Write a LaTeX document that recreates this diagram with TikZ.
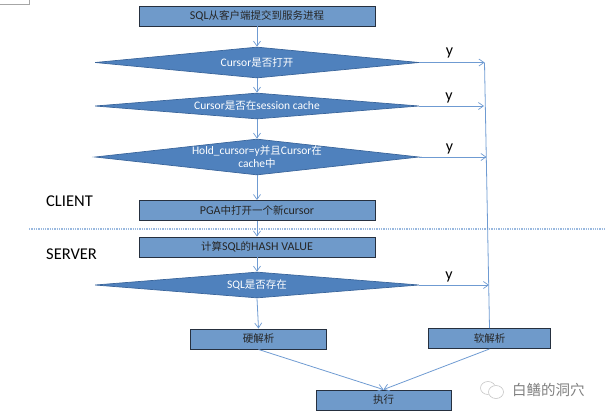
\documentclass[tikz,border=0pt]{standalone}
\usepackage{fontspec}
\setmainfont{Carlito}
\newfontfamily\cjk{Noto Sans CJK SC}
\usetikzlibrary{shapes.geometric,arrows.meta}
\newcommand{\zh}[1]{{\cjk\fontsize{10.5}{13}\selectfont #1}}
\definecolor{boxfill}{HTML}{6F9ACA}
\definecolor{boxline}{HTML}{26303F}
\definecolor{diafill}{HTML}{4F81BD}
\definecolor{dialine}{HTML}{3A659B}
\definecolor{linkc}{HTML}{6F9BD2}
\tikzset{
  procbox/.style={rectangle,draw=boxline,line width=0.9pt,fill=boxfill,inner sep=0pt,text=black!85,font=\fontsize{12}{14}\selectfont},
  dia/.style={diamond,aspect=1,draw=dialine,line width=0.7pt,fill=diafill,inner sep=0pt},
  diatext/.style={text=white,align=center,inner sep=0pt,font=\fontsize{11.5}{13}\selectfont},
  link/.style={draw=linkc,line width=0.8pt,-{Straight Barb[length=5pt,width=7pt,line width=0.7pt]}},
  plainlink/.style={draw=linkc,line width=0.8pt},
  sidelabel/.style={inner sep=0pt,text=black,font=\fontsize{16.5}{18}\selectfont},
  ylabel/.style={inner sep=0pt,text=black,font=\fontsize{16}{18}\selectfont},
}
\begin{document}
\begin{tikzpicture}[x=1pt,y=-1pt]
\useasboundingbox (0,0) rectangle (605,416);
% fragment of a frame at the top left
\draw[black!35,line width=0.6pt] (0,4.7) -- (29.5,4.7) -- (29.5,0);

% separator
\coordinate (sepL) at (29,229);
\coordinate (sepR) at (605,229);
\draw[densely dotted,draw=linkc!70,line width=1.3pt] (sepL) -- (sepR);

% boxes
\node[procbox,minimum width=236pt,minimum height=20pt] (submit) at (257,16) {SQL\zh{从客户端提交到服务进程}};
\node[dia,minimum width=324pt,minimum height=31pt,label={[diatext]center:Cursor\zh{是否打开}}] (open) at (257,62.5) {};
\node[dia,minimum width=324pt,minimum height=26pt,label={[diatext]center:Cursor\zh{是否在}session cache}] (sess) at (257,106) {};
\node[dia,minimum width=324pt,minimum height=36pt,label={[diatext]center:Hold\_cursor=y\zh{并且}Cursor\zh{在}\\cache\zh{中}}] (hold) at (257,157) {};
\node[procbox,minimum width=236pt,minimum height=20pt] (pga) at (257,210.5) {PGA\zh{中打开一个新}cursor};
\node[procbox,minimum width=236pt,minimum height=20pt] (hash) at (257,247) {\zh{计算}SQL\zh{的}HASH VALUE};
\node[dia,minimum width=324pt,minimum height=26pt,label={[diatext]center:SQL\zh{是否存在}}] (exist) at (257,285) {};
\node[procbox,minimum width=135.5pt,minimum height=20pt] (hard) at (258.5,339) {\zh{硬解析}};
\node[procbox,minimum width=122.5pt,minimum height=20pt] (soft) at (489.5,338.5) {\zh{软解析}};
\node[procbox,minimum width=135pt,minimum height=20pt] (run) at (383.5,400) {\zh{执行}};

% main flow
\draw[link] (submit) -- (open);
\draw[link] (open) -- (sess);
\draw[link] (sess) -- (hold);
\draw[link] (hold) -- (pga);
\draw[link] (pga) -- (hash);
\draw[link] (hash) -- (exist);
\draw[link] (exist.south) -- (hard.north);
\draw[link] (hard.south) -- (run.north);
\draw[link] (soft.south) -- (run.north);

% trunk
\coordinate (t1) at (484.5,62.5);
\coordinate (t2) at (484,106);
\coordinate (t3) at (486.5,157);
\coordinate (t4) at (489,285);
\draw[plainlink] (t1) -- (soft.north);
\draw[link] (open.east) -- (t1);
\draw[link] (sess.east) -- (t2);
\draw[link] (hold.east) -- (t3);
\draw[link] (exist.east) -- (t4);

% labels
\node[sidelabel,anchor=west] (client) at (46,201) {CLIENT};
\node[sidelabel,anchor=west] (server) at (46,254) {SERVER};
\node[ylabel] (y1) at (449.5,53) {y};
\node[ylabel] (y2) at (449,98) {y};
\node[ylabel] (y3) at (449.5,149) {y};
\node[ylabel] (y4) at (449,277) {y};

% watermark
\draw[black!22,line width=0.6pt] (488,388) ellipse [x radius=7.5pt,y radius=6.5pt];
\fill[white] (496,392) ellipse [x radius=8pt,y radius=7pt];
\draw[black!22,line width=0.6pt] (496,392) ellipse [x radius=7.5pt,y radius=6.5pt];
\node[inner sep=0pt,anchor=west,text=black!50,font=\cjk\fontsize{14.5}{16}\selectfont] (mark) at (512,390) {白鳝的洞穴};
\end{tikzpicture}
\end{document}
